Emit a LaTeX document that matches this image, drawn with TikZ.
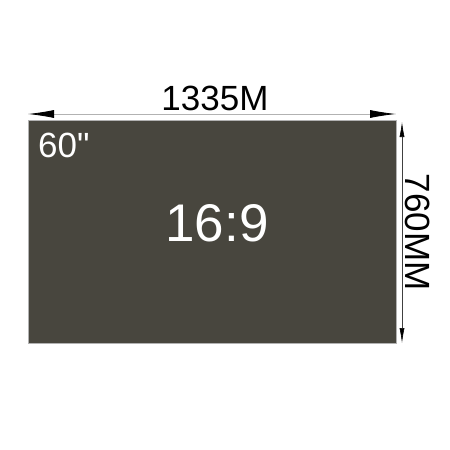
\documentclass[tikz,border=0pt]{standalone}
\usepackage{fontspec}
\setmainfont{Liberation Sans}
\newfontfamily\nomap{Liberation Sans}[Ligatures=TeXOff]
\usetikzlibrary{arrows.meta}
\definecolor{screen}{RGB}{72,70,62}
\tikzset{
  dimtext/.style={font=\fontsize{35}{35}\selectfont, text=black, inner sep=0pt},
  bigarrow/.style={draw=gray!60, line width=0.8pt, {Latex[length=26pt,width=8pt,color=black]}-{Latex[length=26pt,width=8pt,color=black]}},
  smallarrow/.style={draw=black!75, line width=0.6pt, {Latex[length=15pt,width=5pt,color=black]}-{Latex[length=15pt,width=5pt,color=black]}}
}
\begin{document}
\begin{tikzpicture}[x=1pt,y=-1pt]
\useasboundingbox (0,0) rectangle (450,450);
\node[fill=screen, draw=gray!60, line width=0.5pt, minimum width=368pt, minimum height=223pt, inner sep=0pt, anchor=north west] (scr) at (28,120) {};
\coordinate (tl) at (28,114);
\coordinate (tr) at (396,114);
\draw[bigarrow] (tl) -- (tr);
\node[dimtext] (w) at (215,98) {1335M};
\coordinate (rt) at (402,122);
\coordinate (rb) at (402,343);
\draw[smallarrow] (rt) -- (rb);
\node[dimtext, rotate=-90] (h) at (418,232) {760MM};
\node[font=\nomap\fontsize{35}{35}\selectfont, text=white, inner sep=0pt, anchor=north west] (size) at (38,133) {60"};
\node[font=\fontsize{53}{53}\selectfont, text=white, inner sep=0pt] (ratio) at (217,223) {16:9};
\end{tikzpicture}
\end{document}
